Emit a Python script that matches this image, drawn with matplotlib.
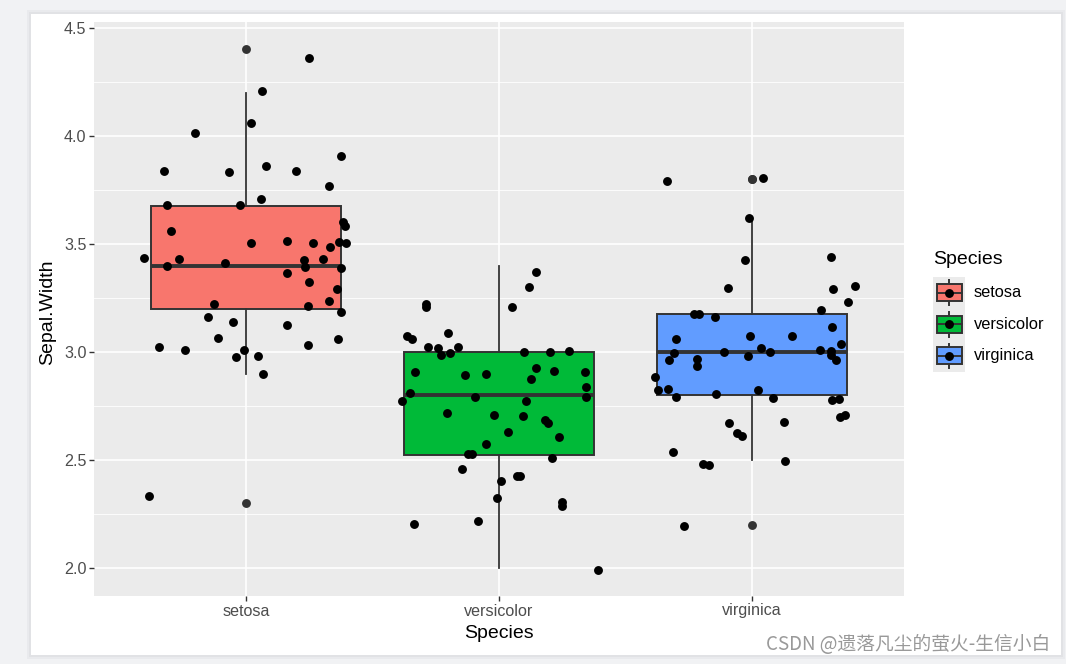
import matplotlib
matplotlib.use('Agg')
import matplotlib.pyplot as plt
from matplotlib.patches import Rectangle
import numpy as np

W, H = 1066, 664

species = ['setosa', 'versicolor', 'virginica']
fills = ['#F8766D', '#00BA38', '#619CFF']

# box statistics
q1 = [3.2, 2.525, 2.8]
med = [3.4, 2.8, 3.0]
q3 = [3.675, 3.0, 3.175]
whis_lo = [2.9, 2.0, 2.5]
whis_hi = [4.2, 3.4, 3.6]
fliers = [[4.4, 2.3], [], [3.8, 3.8, 2.2]]

# jittered points: offset from group centre and value
setosa_dx = [0.25, 0.063, 0.021, -0.20, -0.323, -0.065, 0.08, 0.198, 0.376, 0.329,
             -0.312, -0.025, 0.058, -0.294, 0.384, 0.39, 0.021, 0.163, 0.267, 0.332,
             0.368, 0.397, -0.402, -0.263, -0.311, -0.081, 0.229, 0.303, 0.234, 0.376,
             0.164, 0.249, 0.359, 0.33, -0.127, 0.246, 0.374, -0.148, -0.052, 0.164,
             -0.111, -0.345, -0.242, 0.246, 0.364, -0.008, -0.04, 0.049, 0.066, -0.381]
setosa_y = [4.362, 4.208, 4.062, 4.014, 3.837, 3.832, 3.861, 3.837, 3.906, 3.767,
            3.679, 3.681, 3.707, 3.562, 3.601, 3.585, 3.505, 3.514, 3.506, 3.485,
            3.508, 3.503, 3.437, 3.431, 3.398, 3.414, 3.426, 3.432, 3.394, 3.389,
            3.364, 3.324, 3.292, 3.236, 3.221, 3.214, 3.184, 3.164, 3.138, 3.126,
            3.065, 3.023, 3.011, 3.034, 3.062, 3.012, 2.977, 2.983, 2.901, 2.335]

versicolor_dx = [0.148, 0.12, -0.29, -0.29, 0.05, -0.364, -0.343, -0.202, -0.279, -0.242,
                 -0.163, -0.23, -0.192, 0.099, 0.2, 0.277, -0.333, -0.136, -0.05, 0.147,
                 0.218, 0.341, 0.127, 0.345, -0.35, -0.385, -0.094, 0.107, 0.345, -0.205,
                 -0.021, 0.094, 0.181, 0.193, 0.034, 0.239, -0.052, -0.122, -0.108, 0.21,
                 -0.148, 0.07, 0.081, 0.008, -0.007, 0.25, 0.249, -0.337, -0.083, 0.392]
versicolor_y = [3.369, 3.302, 3.221, 3.208, 3.207, 3.074, 3.063, 3.087, 3.026, 3.02,
                3.023, 2.986, 2.997, 2.999, 3.001, 3.003, 2.907, 2.894, 2.898, 2.926,
                2.913, 2.909, 2.874, 2.838, 2.813, 2.773, 2.792, 2.776, 2.792, 2.718,
                2.71, 2.705, 2.684, 2.671, 2.631, 2.606, 2.576, 2.531, 2.528, 2.511,
                2.46, 2.429, 2.426, 2.404, 2.324, 2.307, 2.287, 2.204, 2.219, 1.991]

virginica_dx = [-0.336, 0.044, -0.013, -0.027, 0.31, -0.094, 0.321, 0.405, 0.377, 0.271,
                -0.229, -0.208, -0.146, 0.315, -0.3, -0.008, 0.157, 0.353, -0.307, -0.111,
                0.036, 0.07, 0.267, 0.31, 0.313, -0.327, -0.218, -0.218, -0.015, 0.333,
                -0.384, -0.372, -0.333, -0.3, -0.143, 0.025, 0.081, 0.317, 0.344, -0.092,
                0.124, -0.06, -0.04, 0.347, 0.365, -0.313, -0.194, -0.172, 0.13, -0.27]
virginica_y = [3.792, 3.807, 3.62, 3.424, 3.438, 3.295, 3.292, 3.307, 3.231, 3.196,
               3.175, 3.177, 3.163, 3.116, 3.063, 3.074, 3.073, 3.036, 2.997, 3.001,
               3.019, 3.001, 3.008, 3.005, 2.986, 2.963, 2.966, 2.937, 2.983, 2.963,
               2.886, 2.823, 2.829, 2.792, 2.807, 2.827, 2.787, 2.779, 2.784, 2.671,
               2.676, 2.628, 2.613, 2.7, 2.711, 2.536, 2.483, 2.48, 2.495, 2.196]

jitter_dx = [setosa_dx, versicolor_dx, virginica_dx]
jitter_y = [setosa_y, versicolor_y, virginica_y]

plt.rcParams['font.family'] = ['Liberation Sans', 'DejaVu Sans']

fig = plt.figure(figsize=(W / 100, H / 100), dpi=100, facecolor='#F1F2F4')

def fx(px):
    return px / W

def fy(py):
    return 1 - py / H

# page card with a soft shadow (kept behind the axes)
for grow, col in [(4, '#E9EAED'), (2, '#E1E2E5')]:
    fig.patches.append(Rectangle((fx(31 - grow), fy(655 + grow)), fx(1030 + 2 * grow), (641 + 2 * grow) / H,
                                 transform=fig.transFigure, facecolor=col, edgecolor='none', zorder=-10))
fig.patches.append(Rectangle((fx(31), fy(655)), fx(1030), 641 / H,
                             transform=fig.transFigure, facecolor='white', edgecolor='none', zorder=-9))

ax = fig.add_axes([fx(94), fy(596), fx(810), 574 / H])
ax.set_facecolor('#EBEBEB')
for s in ax.spines.values():
    s.set_visible(False)

pos = np.arange(1, len(species) + 1)
stats = []
for i, name in enumerate(species):
    stats.append(dict(label=name, q1=q1[i], med=med[i], q3=q3[i],
                      whislo=whis_lo[i], whishi=whis_hi[i], fliers=fliers[i]))

dot = 6.4
bp = ax.bxp(stats, positions=pos, widths=0.75, patch_artist=True, showcaps=False,
            boxprops=dict(edgecolor='#333333', linewidth=1.4),
            whiskerprops=dict(color='#333333', linewidth=1.3),
            medianprops=dict(color='#333333', linewidth=2.8, solid_capstyle='butt'),
            flierprops=dict(marker='o', markerfacecolor='#333333', markeredgecolor='#333333',
                            markersize=dot, markeredgewidth=0),
            zorder=2)
for patch, c in zip(bp['boxes'], fills):
    patch.set_facecolor(c)

for i in range(len(species)):
    xs = pos[i] + np.array(jitter_dx[i])
    ax.plot(xs, jitter_y[i], 'o', color='black', markersize=dot, markeredgewidth=0, zorder=4)

ax.set_xlim(0.4, 3.6)
ax.set_ylim(1.872, 4.527)
ax.set_xticks(pos)
ax.set_xticklabels(species)
ax.set_yticks([2.0, 2.5, 3.0, 3.5, 4.0, 4.5])
ax.set_yticklabels(['2.0', '2.5', '3.0', '3.5', '4.0', '4.5'])
ax.set_yticks([2.25, 2.75, 3.25, 3.75, 4.25], minor=True)
ax.grid(True, which='major', color='white', linewidth=1.2)
ax.grid(True, which='minor', axis='y', color='white', linewidth=0.6)
ax.set_axisbelow(True)
ax.tick_params(axis='both', which='major', length=3.4, width=1.0, color='#333333',
               labelcolor='#4D4D4D', labelsize=11.6, pad=2)
ax.tick_params(axis='both', which='minor', length=0)

fig.text(fx(499), fy(634), 'Species', ha='center', va='center', fontsize=14, color='black')
fig.text(fx(48), fy(312), 'Sepal.Width', ha='center', va='center', rotation=90,
         fontsize=14, color='black')

# legend drawn in pixel space
lg = fig.add_axes([fx(920), fy(380), fx(140), 140 / H])
lg.set_xlim(920, 1060)
lg.set_ylim(380, 240)
lg.axis('off')
lg.text(933, 259, 'Species', ha='left', va='center', fontsize=14, color='black')
key_h = 31.7
for i, name in enumerate(species):
    top = 276.7 + i * key_h
    cy = top + key_h / 2
    lg.add_patch(Rectangle((933.3, top), 31.7, key_h, facecolor='#EBEBEB', edgecolor='none'))
    lg.plot([949.2, 949.2], [top + 3.5, top + key_h - 3.5], color='#333333', linewidth=1.4)
    lg.add_patch(Rectangle((936.7, cy - 8.5), 25, 17, facecolor=fills[i], edgecolor='#333333',
                           linewidth=1.4, zorder=3))
    lg.plot([936.7, 961.7], [cy, cy], color='#333333', linewidth=1.4, zorder=4)
    lg.plot([949.2], [cy], 'o', color='black', markersize=dot, markeredgewidth=0, zorder=5)
    lg.text(974, cy, name, ha='left', va='center', fontsize=11.8, color='black')

fig.text(fx(1050), fy(645), 'CSDN @遗落凡尘的萤火-生信小白', ha='right', va='center',
         fontsize=13.5, color='#999999', family=['Noto Sans CJK SC', 'DejaVu Sans'])

fig.savefig('out.png', dpi=100, facecolor=fig.get_facecolor())
